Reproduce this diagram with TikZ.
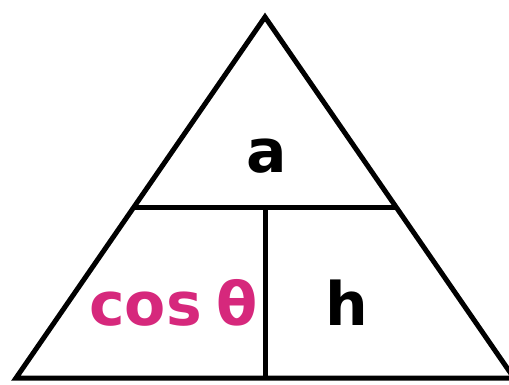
\documentclass[tikz,border=0pt]{standalone}
\usepackage{fontspec}
\setmainfont{DejaVu Sans}
\usetikzlibrary{calc}
\definecolor{mag}{RGB}{214,40,124}
\begin{document}
\begin{tikzpicture}[x=1pt,y=-1pt,
  edge/.style={line width=5pt,line join=miter,black},
  lbl/.style={inner sep=0pt,font=\fontsize{60}{60}\selectfont\bfseries}]
\useasboundingbox (0,0) rectangle (509,384);
\coordinate (top) at (265,17);
\coordinate (bl) at (16,378);
\coordinate (br) at (514,378);
\coordinate (ml) at ($(top)!0.529!(bl)$);
\coordinate (mr) at ($(top)!0.529!(br)$);
\coordinate (mb) at (265,378);
\coordinate (mm) at (265,208);
\draw[edge] (top) -- (bl) -- (br) -- cycle;
\draw[edge] (ml) -- (mr);
\draw[edge] (mm) -- (mb);
\node[lbl,anchor=base] (a) at (267,172) {a};
\node[lbl,anchor=base] (h) at (347,325) {h};
\node[lbl,anchor=base west,text=mag] (c) at (89,325) {cos\hspace{0.25em}θ};
\end{tikzpicture}
\end{document}
